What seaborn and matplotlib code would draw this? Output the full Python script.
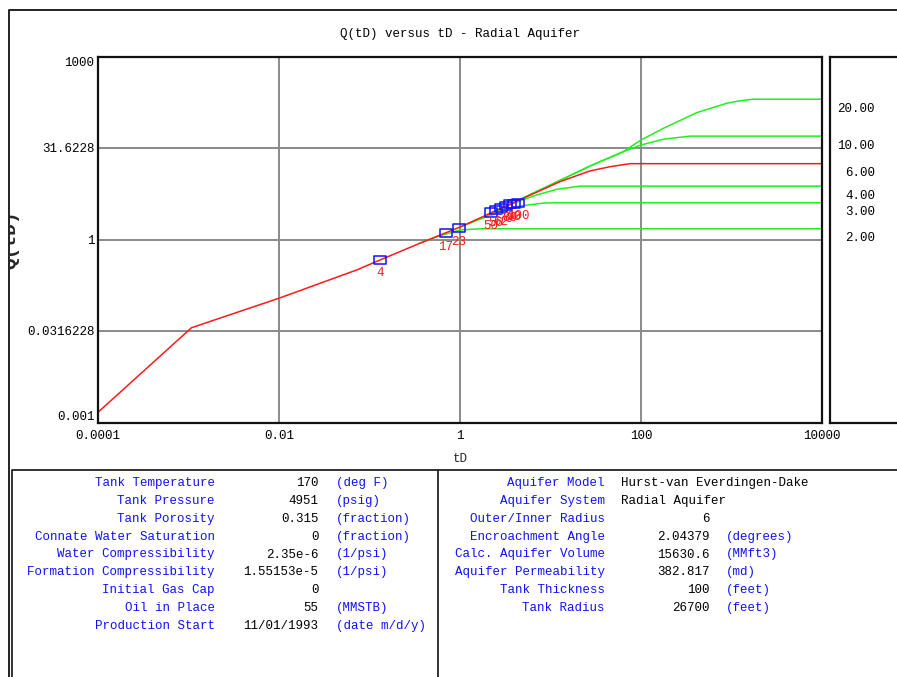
import matplotlib
matplotlib.use("Agg")
import matplotlib.pyplot as plt
from matplotlib.lines import Line2D
from matplotlib.path import Path
from matplotlib.transforms import Bbox, TransformedBbox
import seaborn as sns

# ---------------- data ----------------
# Dimensionless water influx Q(tD) for the radial aquifer, red = selected reD (6)
td_red = [1e-4, 1.08e-3, 0.01, 0.072, 0.13, 0.36, 1.0, 2.0, 5.45, 12.7, 27.3, 45.4, 75.5, 1e4]
q_red = [0.00147, 0.0358, 0.109, 0.316, 0.46, 0.867, 1.6, 2.55, 5.03, 8.87, 13.3, 15.6, 17.5, 17.5]

# Other outer/inner radius ratios (green)
td_re2 = [0.36, 0.56, 1.0, 1.66, 1e4]
q_re2 = [0.867, 1.12, 1.43, 1.5, 1.5]

td_re3 = [1.0, 2.0, 4.6, 8.3, 11.0, 1e4]
q_re3 = [1.6, 2.4, 3.54, 3.95, 4.0, 4.0]

td_re4 = [2.0, 4.2, 7.03, 11.7, 21.2, 1e4]
q_re4 = [2.55, 4.1, 5.37, 6.65, 7.5, 7.5]

td_re10 = [2.0, 5.45, 12.7, 27.3, 63.7, 100, 177, 347, 1e4]
q_re10 = [2.55, 5.1, 9.3, 16.0, 27.5, 35.4, 44.0, 49.5, 49.5]

td_re20 = [2.0, 5.45, 12.7, 27.3, 63.7, 100, 177, 412, 885, 1242, 1742, 1e4]
q_re20 = [2.55, 5.1, 9.3, 16.0, 27.5, 42.8, 66.5, 120, 171, 188, 199.5, 199.5]

# Matched history points
match_td = [0.131, 0.695, 0.975, 2.20, 2.50, 2.84, 3.22, 3.57, 3.95, 4.38]
match_q = [0.461, 1.26, 1.53, 2.77, 3.05, 3.28, 3.54, 3.75, 3.89, 4.04]
match_labels = ["4", "17", "23", "50", "56", "62", "70", "80", "90", "100"]

# Radius ratio legend (value, plateau level)
red_values = [20, 10, 6, 4, 3, 2]
red_plateaus = [199.5, 49.5, 17.5, 7.5, 4.0, 1.5]

x_ticks = [1e-4, 1e-2, 1, 1e2, 1e4]
x_tick_labels = ["0.0001", "0.01", "1", "100", "10000"]
y_ticks = [0.001, 0.0316228, 1, 31.6228, 1000]
y_tick_labels = ["0.001", "0.0316228", "1", "31.6228", "1000"]

left_labels = ["Tank Temperature", "Tank Pressure", "Tank Porosity",
               "Connate Water Saturation", "Water Compressibility",
               "Formation Compressibility", "Initial Gas Cap", "Oil in Place",
               "Production Start"]
left_values = ["170", "4951", "0.315", "0", "2.35e-6", "1.55153e-5", "0", "55",
               "11/01/1993"]
left_units = ["(deg F)", "(psig)", "(fraction)", "(fraction)", "(1/psi)",
              "(1/psi)", "", "(MMSTB)", "(date m/d/y)"]

right_labels = ["Aquifer Model", "Aquifer System", "Outer/Inner Radius",
                "Encroachment Angle", "Calc. Aquifer Volume",
                "Aquifer Permeability", "Tank Thickness", "Tank Radius"]
right_text = ["Hurst-van Everdingen-Dake", "Radial Aquifer", "", "", "", "", "", ""]
right_values = ["", "", "6", "2.04379", "15630.6", "382.817", "100", "26700"]
right_units = ["", "", "", "(degrees)", "(MMft3)", "(md)", "(feet)", "(feet)"]

# ---------------- style ----------------
sns.set_style("white")
plt.rcParams["font.family"] = ["Liberation Mono", "DejaVu Sans Mono"]
plt.rcParams["font.size"] = 9

W, H = 897, 677
fig = plt.figure(figsize=(W / 100, H / 100), dpi=100)
fig.patch.set_facecolor("white")


def fx(px):
    return px / W


def fy(py):
    return 1 - py / H


RED = "#ff1a1a"
GREEN = "#22ee22"
BLUE = "#1010ff"
GRID = "#8a8a8a"

# ---------------- main chart ----------------
ax_l, ax_r, ax_t, ax_b = 98, 822, 56.5, 422.5
ax = fig.add_axes([fx(ax_l), fy(ax_b), (ax_r - ax_l) / W, (ax_b - ax_t) / H])
ax.set_xscale("log")
ax.set_yscale("log")
ax.set_xlim(1e-4, 1e4)
ax.set_ylim(1e-3, 1e3)

for td, q in [(td_re2, q_re2), (td_re3, q_re3), (td_re4, q_re4),
              (td_re10, q_re10), (td_re20, q_re20)]:
    sns.lineplot(x=td, y=q, color=GREEN, lw=1.1, estimator=None, sort=False, ax=ax)
sns.lineplot(x=td_red, y=q_red, color=RED, lw=1.1, estimator=None, sort=False, ax=ax)

box = Path([(-1.5, -1), (1.5, -1), (1.5, 1), (-1.5, 1), (-1.5, -1)],
           [Path.MOVETO, Path.LINETO, Path.LINETO, Path.LINETO, Path.CLOSEPOLY])
sns.scatterplot(x=match_td, y=match_q, marker=box, s=75, facecolor="none",
                edgecolor=BLUE, linewidth=1.1, ax=ax, zorder=5)
for t, q, lab in zip(match_td, match_q, match_labels):
    ax.annotate(lab, xy=(t, q), xytext=(0, -9.7), textcoords="offset points",
                ha="center", va="center", color=RED, fontsize=9, zorder=6)

ax.set_xticks(x_ticks)
ax.set_xticklabels(x_tick_labels)
ax.set_yticks(y_ticks)
ax.set_yticklabels(y_tick_labels)
ax.minorticks_off()
ax.tick_params(axis="both", length=0, labelsize=9, colors="black")
ax.tick_params(axis="x", pad=5.5)
ax.tick_params(axis="y", pad=2.5)
ytk = ax.yaxis.get_major_ticks()
ytk[0].label1.set_va("bottom")
ytk[-1].label1.set_va("top")

ax.grid(True, which="major", color=GRID, lw=1.4)
for sp in ax.spines.values():
    sp.set_color("#111111")
    sp.set_linewidth(1.6)
    sp.set_zorder(7)

ax.set_xlabel("tD", fontsize=9, labelpad=8)
ylab = ax.set_ylabel("Q(tD)", fontsize=14, fontweight="bold")
ax.yaxis.set_label_coords((19.5 - ax_l) / (ax_r - ax_l), 0.5)
ylab.set_clip_box(TransformedBbox(Bbox([[fx(9.5), 0], [1, 1]]), fig.transFigure))
ylab.set_clip_on(True)

fig.text(fx(460), fy(34), "Q(tD) versus tD - Radial Aquifer", ha="center",
         va="center", fontsize=9, color="black")

# ---------------- radius ratio panel ----------------
pax = fig.add_axes([fx(830), fy(ax_b), (905 - 830) / W, (ax_b - ax_t) / H])
pax.set_yscale("log")
pax.set_ylim(1e-3, 1e3)
pax.set_xlim(0, 1)
pax.set_xticks([])
pax.set_yticks([])
pax.minorticks_off()
for sp in pax.spines.values():
    sp.set_color("#111111")
    sp.set_linewidth(1.6)
for r, q in zip(red_values, red_plateaus):
    pax.annotate(f"{r:.2f}", xy=(0.6, q), xytext=(0, -7), textcoords="offset points",
                 ha="right", va="center", fontsize=9, color="black")

# ---------------- frames ----------------
fig.add_artist(Line2D([fx(9), fx(9), fx(897)], [fy(677), fy(10), fy(10)],
                      transform=fig.transFigure, color="#111111", lw=1.3))
fig.add_artist(Line2D([fx(12.3), fx(12.3), fx(897)], [fy(677), fy(470), fy(470)],
                      transform=fig.transFigure, color="#222222", lw=1.3))
fig.add_artist(Line2D([fx(437.7), fx(437.7)], [fy(470), fy(677)],
                      transform=fig.transFigure, color="#222222", lw=1.3))

# ---------------- parameter table ----------------
row0, dy = 483.3, 17.8
for i, (lab, val, unit) in enumerate(zip(left_labels, left_values, left_units)):
    y = fy(row0 + i * dy)
    fig.text(fx(214.5), y, lab, ha="right", va="center", color=BLUE)
    fig.text(fx(318.5), y, val, ha="right", va="center", color="black")
    if unit:
        fig.text(fx(336), y, unit, ha="left", va="center", color=BLUE)

for i, (lab, txt, val, unit) in enumerate(zip(right_labels, right_text,
                                               right_values, right_units)):
    y = fy(row0 + i * dy)
    fig.text(fx(604.5), y, lab, ha="right", va="center", color=BLUE)
    if txt:
        fig.text(fx(621), y, txt, ha="left", va="center", color="black")
    if val:
        fig.text(fx(709.5), y, val, ha="right", va="center", color="black")
    if unit:
        fig.text(fx(726), y, unit, ha="left", va="center", color=BLUE)

fig.savefig("out.png", dpi=100, facecolor="white")
